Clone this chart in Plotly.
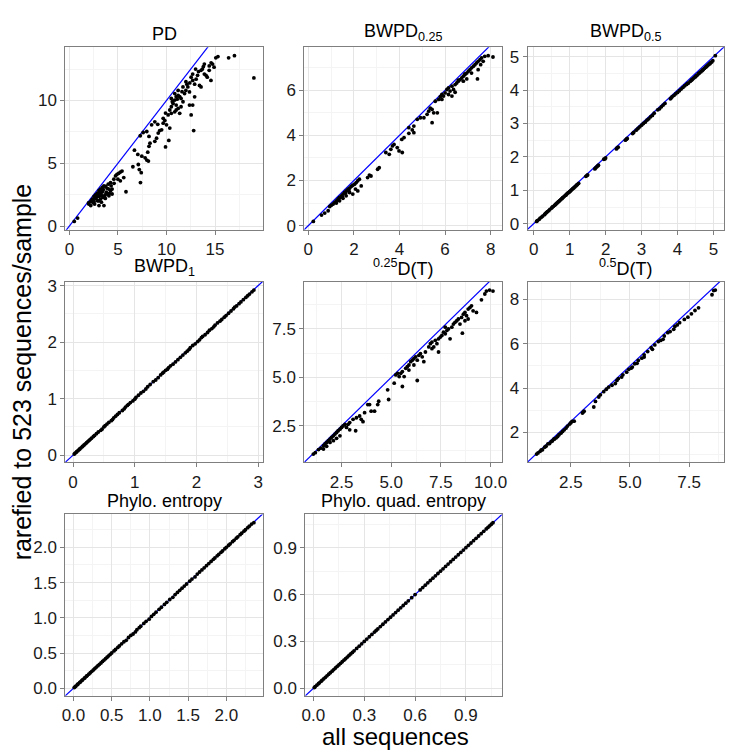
import plotly.graph_objects as go

# ---------------- data ----------------
panel_titles = ["PD", "BWPD<sub>0.25</sub>", "BWPD<sub>0.5</sub>", "BWPD<sub>1</sub>",
                "<sup>0.25</sup>D(T)", "<sup>0.5</sup>D(T)", "Phylo. entropy", "Phylo. quad. entropy"]

pd_x = [0.5,0.85,1.97,2.2,2.37,2.54,2.7,2.88,3.05,3.2,
        3.39,3.56,3.73,3.9,4.07,4.24,4.4,2.2,3.05,3.56,
        2.7,3.05,3.32,3.46,3.66,2.88,2.54,3.2,3.9,4.07,
        4.4,4.0,4.24,4.58,4.75,4.9,5.08,5.25,5.42,5.0,
        5.25,5.6,5.83,6.54,7.1,7.2,7.4,7.32,6.7,7.05,
        7.46,7.3,7.6,7.8,7.97,8.14,8.07,8.2,8.3,7.97,
        8.2,8.47,8.8,8.98,8.8,9.15,9.3,9.83,9.66,10.0,
        10.17,10.34,10.24,9.9,10.34,10.5,10.68,10.85,11.0,11.2,
        11.36,11.5,11.0,11.2,10.85,11.36,11.5,11.7,11.86,12.0,
        12.2,12.37,12.37,12.54,12.7,12.9,12.8,12.54,12.7,12.9,
        13.05,13.2,13.4,13.56,13.56,13.7,13.9,14.07,14.2,14.4,
        14.58,14.75,14.9,15.08,15.3,16.4,17.0,19.0,11.7,12.0,
        12.7,13.0,13.9,14.4,11.2,10.85,10.5,10.5,11.0,9.66,
        9.5,2.0,2.3,2.45,2.6,2.8,2.95,3.1,3.25,3.4,
        3.5,3.6,3.8,3.3,3.0,2.6,3.7,4.1,4.3,4.6,
        9.1,9.9,10.6,11.1,11.6,12.1,12.4,13.3,13.8,14.6]
pd_y = [0.37,0.63,1.84,1.94,2.15,2.36,2.47,2.62,2.81,2.94,
        3.07,3.2,3.15,3.0,2.94,2.81,2.55,1.63,1.63,1.63,
        2.2,2.36,2.41,2.28,2.47,2.02,1.94,2.15,2.55,2.41,
        2.94,3.33,3.46,3.73,3.99,4.12,4.2,4.3,4.38,3.73,
        3.6,3.86,2.73,4.72,4.9,4.5,4.25,3.46,6.04,5.7,
        5.56,7.19,7.45,5.43,5.25,5.17,5.88,6.35,6.6,7.53,
        7.14,8.06,8.3,7.0,6.75,7.4,7.6,8.4,8.58,8.06,
        8.85,7.8,6.82,6.3,9.24,9.5,9.76,10.03,10.3,10.4,
        10.3,10.16,9.63,9.37,9.1,8.98,9.5,9.9,10.55,10.8,
        11.08,10.68,9.63,8.85,9.63,10.29,7.6,11.86,11.6,11.3,
        11.7,12.0,11.2,11.08,12.4,12.5,12.1,12.0,11.86,12.4,
        11.6,12.9,12.65,13.4,13.5,13.4,13.57,11.8,11.08,11.5,
        12.1,12.5,12.9,12.75,10.8,10.55,10.16,8.98,9.24,8.19,
        7.66,1.75,2.05,1.85,2.25,2.3,2.5,2.65,2.6,2.75,
        2.9,2.35,2.7,1.9,2.0,1.75,2.2,2.6,3.2,3.4,
        8.1,9.0,9.9,10.1,10.7,11.3,11.4,12.3,12.7,13.0]

bw025_x = [0.22,0.58,0.72,0.87,0.94,1.01,1.09,1.16,1.23,1.3,
           1.37,1.45,1.52,1.59,1.66,1.74,1.81,1.88,1.95,2.03,
           2.1,2.17,2.24,2.07,2.17,1.95,1.81,1.66,1.52,1.37,
           1.23,1.35,1.49,1.63,1.78,2.32,2.6,2.68,2.75,3.11,
           3.04,3.4,3.55,3.62,3.69,3.76,3.9,3.98,4.12,4.1,
           4.2,4.41,4.56,4.63,4.78,4.92,5.07,5.21,5.28,5.43,
           5.5,5.66,5.43,4.63,4.41,5.72,5.79,5.86,5.93,6.0,
           6.08,6.15,6.22,6.3,6.37,6.44,6.51,6.58,6.66,6.73,
           6.8,6.87,6.95,7.02,7.09,7.16,7.24,7.31,7.38,7.45,
           7.53,7.6,7.74,7.89,8.1,7.42,6.95,6.8,6.58,6.87,
           7.16,7.45,7.56,7.67,5.86,6.15,6.44,6.3,5.57,5.35]
bw025_y = [0.19,0.47,0.56,0.66,0.85,0.91,0.96,1.03,1.1,1.18,
           1.25,1.32,1.4,1.47,1.54,1.62,1.66,1.74,1.79,1.84,
           1.91,1.99,2.06,1.62,1.54,1.4,1.47,1.32,1.21,1.1,
           1.0,1.21,1.29,1.44,1.54,1.76,2.13,2.24,2.2,2.57,
           2.5,3.24,3.16,3.38,3.53,3.6,3.46,3.31,3.24,3.82,
           3.9,4.09,4.24,4.41,4.71,4.78,4.78,4.93,5.07,5.15,
           5.0,5.0,4.56,4.12,4.34,5.59,5.71,5.81,5.74,5.88,
           6.03,6.1,5.96,6.18,6.03,6.25,6.32,6.4,6.47,6.54,
           6.62,6.69,6.76,6.84,6.91,6.99,7.06,7.13,7.21,7.28,
           7.35,7.43,7.5,7.53,7.47,6.5,6.5,6.4,6.45,6.72,
           6.76,6.91,7.13,7.28,5.59,5.81,5.91,5.74,5.51,5.2]

bw05_x = [0.08,0.15,0.22,0.3,0.35,0.42,0.5,0.55,0.6,0.65,
          0.7,0.75,0.8,0.85,0.9,0.95,1.0,1.05,1.1,1.15,
          1.2,1.25,1.45,1.5,1.7,1.75,1.8,1.95,2.0,2.3,
          2.35,2.55,2.6,2.75,2.85,2.95,3.05,3.15,3.25,3.35,
          3.45,3.55,3.65,3.8,3.85,3.95,4.05,4.15,4.25,4.3,
          4.35,4.4,4.45,4.5,4.55,4.6,4.65,4.7,4.75,4.8,
          4.85,4.9,4.95,5.05,
          0.1,0.18,0.25,0.32,0.38,0.45,0.52,0.58,0.62,0.68,
          0.72,0.78,0.82,0.88,0.92,0.98,1.02,1.08,1.12,1.18,
          1.22,1.48,1.72,1.78,1.98,2.32,2.58,2.78,2.9,3.0,
          3.1,3.2,3.3,3.5,3.6,3.82,3.9,4.0,4.1,4.2,
          4.28,4.38,4.42,4.48,4.52,4.58,4.62,4.68,4.72,4.78,
          4.82,4.88,4.92,4.98]
bw05_y = [0.07,0.13,0.2,0.27,0.33,0.39,0.47,0.52,0.57,0.62,
          0.67,0.72,0.77,0.82,0.86,0.92,0.96,1.01,1.06,1.11,
          1.16,1.21,1.42,1.46,1.64,1.7,1.75,1.93,1.97,2.24,
          2.29,2.5,2.55,2.7,2.8,2.9,3.0,3.1,3.2,3.31,
          3.41,3.5,3.6,3.74,3.8,3.89,3.98,4.08,4.17,4.21,
          4.26,4.31,4.36,4.4,4.45,4.5,4.55,4.6,4.65,4.7,
          4.75,4.79,4.84,5.03,
          0.09,0.17,0.23,0.3,0.36,0.43,0.5,0.55,0.59,0.65,
          0.69,0.75,0.79,0.85,0.89,0.94,0.98,1.04,1.08,1.14,
          1.18,1.44,1.67,1.73,1.94,2.27,2.53,2.73,2.85,2.95,
          3.04,3.14,3.24,3.44,3.55,3.76,3.84,3.93,4.03,4.13,
          4.2,4.29,4.33,4.39,4.43,4.49,4.53,4.58,4.62,4.68,
          4.72,4.78,4.82,4.88]

bw1_x = [0.02,0.05,0.08,0.1,0.13,0.16,0.2,0.24,0.28,0.33,
         0.38,0.45,0.5,0.55,0.62,0.66,0.72,0.8,0.85,0.9,
         0.97,1.02,1.1,1.18,1.25,1.3,1.38,1.45,1.5,1.55,
         1.62,1.7,1.78,1.85,1.9,1.98,2.05,2.1,2.18,2.25,
         2.3,2.38,2.45,2.52,2.6,2.65,2.72,2.8,2.86,2.93,
         0.03,0.06,0.11,0.15,0.18,0.22,0.26,0.3,0.35,0.41,
         0.47,0.52,0.58,0.64,0.69,0.75,0.83,0.88,0.93,1.0,
         1.06,1.14,1.21,1.34,1.42,1.47,1.53,1.58,1.66,1.74,
         1.82,1.88,1.94,2.02,2.08,2.14,2.21,2.28,2.34,2.41,
         2.48,2.56,2.62,2.69,2.76,2.83,2.9]
bw1_y = [0.02,0.05,0.08,0.1,0.13,0.16,0.2,0.24,0.28,0.33,
         0.38,0.44,0.5,0.55,0.61,0.66,0.72,0.79,0.85,0.9,
         0.96,1.02,1.1,1.17,1.25,1.3,1.37,1.45,1.5,1.55,
         1.61,1.69,1.77,1.84,1.9,1.97,2.04,2.1,2.17,2.24,
         2.3,2.37,2.44,2.51,2.59,2.64,2.71,2.79,2.85,2.92,
         0.03,0.06,0.11,0.15,0.18,0.22,0.26,0.3,0.35,0.41,
         0.46,0.52,0.58,0.63,0.69,0.75,0.82,0.88,0.93,0.99,
         1.06,1.13,1.21,1.33,1.42,1.47,1.52,1.58,1.65,1.73,
         1.81,1.87,1.94,2.01,2.08,2.13,2.21,2.27,2.34,2.4,
         2.47,2.55,2.62,2.68,2.75,2.82,2.89]

d025_x = [1.08,1.18,1.34,1.46,1.59,1.67,1.75,1.84,1.92,2.0,
          2.09,2.17,2.25,2.33,2.42,2.5,2.58,2.67,1.92,2.09,
          2.25,2.42,1.59,1.75,2.75,2.83,2.91,3.21,2.91,3.08,
          3.25,3.41,3.49,3.58,3.66,3.82,3.91,3.99,4.16,4.32,
          4.37,4.82,4.87,5.15,5.23,5.32,5.4,5.48,5.56,5.65,
          5.73,5.81,5.89,5.98,6.06,6.14,6.23,6.31,6.31,6.39,
          6.47,6.56,6.64,6.14,6.89,6.97,7.05,7.14,7.22,7.3,
          7.38,7.47,7.55,7.63,7.72,7.8,7.88,7.96,8.05,8.13,
          8.21,8.3,8.38,8.46,8.54,8.58,8.63,8.71,8.79,8.87,
          8.96,9.04,9.12,9.29,9.54,9.71,9.79,9.95,10.12,8.71,
          8.87,7.72,7.38,7.05,6.72,5.89,5.56]
d025_y = [1.05,1.12,1.28,1.35,1.48,1.57,1.65,1.74,1.82,1.91,
          1.99,2.08,2.16,2.25,2.33,2.42,2.5,2.58,1.65,1.74,
          1.86,1.99,1.31,1.45,2.42,2.58,2.3,2.25,2.67,2.84,
          2.92,3.01,2.84,2.72,3.18,3.6,3.6,3.26,3.26,3.6,
          3.77,4.36,3.86,4.7,5.13,5.21,5.04,5.21,4.53,5.04,
          5.47,5.55,5.64,5.81,5.89,5.97,6.06,5.89,4.84,6.14,
          6.23,6.06,5.81,5.64,6.57,6.74,6.82,6.57,6.91,6.74,
          6.31,7.08,7.16,7.33,7.25,7.42,7.5,6.99,7.59,7.75,
          7.84,7.92,8.01,7.75,8.09,7.28,8.26,8.35,8.18,8.52,
          8.6,8.69,8.43,8.35,9.0,9.3,9.45,9.5,9.45,7.92,
          8.01,7.59,6.99,6.48,6.31,5.38,5.3]

d05_x = [1.05,1.11,1.25,1.39,1.53,1.67,1.81,1.94,2.08,2.22,
         2.36,2.5,2.64,2.99,3.06,3.47,3.54,3.68,3.89,4.24,
         4.38,4.51,4.65,4.86,8.47,8.54,8.61,1.2,1.3,1.45,
         1.6,1.72,1.78,1.88,2.0,2.15,2.3,2.45,2.55,3.03,
         3.75,4.1,4.95,5.1,5.2,5.35,5.5,5.6,5.75,5.9,
         6.05,6.2,6.3,6.45,6.6,6.7,6.85,7.0,7.1,7.3,
         7.45,7.6,7.75,7.9,5.05,5.3,5.6,5.95,6.4,6.9,
         4.0,4.45,4.7]
d05_y = [1.03,1.08,1.22,1.34,1.49,1.59,1.71,1.82,1.97,2.12,
         2.29,2.44,2.51,2.88,2.96,3.15,3.4,3.6,3.84,4.13,
         4.21,4.43,4.5,4.72,8.21,8.4,8.42,1.15,1.22,1.38,
         1.5,1.62,1.7,1.76,1.9,2.05,2.2,2.38,2.5,2.93,
         3.7,4.05,4.85,4.95,5.1,5.25,5.35,5.5,5.65,5.82,
         5.95,6.1,6.15,6.35,6.5,6.55,6.65,6.85,6.95,7.1,
         7.2,7.35,7.5,7.62,4.9,5.12,5.4,5.75,6.2,6.78,
         3.95,4.35,4.6]

pe_x = [0.01,0.03,0.06,0.09,0.12,0.15,0.18,0.22,0.26,0.3,
        0.34,0.38,0.42,0.46,0.5,0.55,0.6,0.66,0.72,0.78,
        0.83,0.88,0.95,1.02,1.08,1.15,1.22,1.3,1.36,1.42,
        1.48,1.55,1.62,1.68,1.74,1.8,1.85,1.9,1.95,2.0,
        2.05,2.1,2.15,2.2,2.25,2.3,2.36,
        0.02,0.05,0.08,0.11,0.14,0.17,0.2,0.24,0.28,0.32,
        0.36,0.4,0.44,0.48,0.53,0.58,0.63,0.69,0.75,0.81,
        0.86,0.92,0.99,1.05,1.12,1.19,1.26,1.33,1.39,1.45,
        1.52,1.59,1.65,1.71,1.77,1.83,1.88,1.93,1.98,2.03,
        2.08,2.13,2.18,2.23,2.28,2.33]
pe_y = [0.01,0.03,0.06,0.09,0.12,0.15,0.18,0.22,0.26,0.3,
        0.34,0.38,0.42,0.46,0.5,0.55,0.6,0.66,0.72,0.77,
        0.83,0.88,0.95,1.02,1.08,1.15,1.22,1.29,1.36,1.42,
        1.48,1.55,1.62,1.68,1.74,1.8,1.85,1.9,1.95,2.0,
        2.05,2.1,2.15,2.2,2.25,2.3,2.35,
        0.02,0.05,0.08,0.11,0.14,0.17,0.2,0.24,0.28,0.32,
        0.36,0.4,0.44,0.48,0.53,0.58,0.63,0.68,0.75,0.8,
        0.86,0.92,0.98,1.05,1.12,1.19,1.26,1.33,1.39,1.45,
        1.52,1.58,1.65,1.71,1.77,1.83,1.88,1.93,1.98,2.03,
        2.08,2.13,2.18,2.23,2.28,2.33]

pq_x = [0.005,0.02,0.035,0.05,0.07,0.09,0.11,0.13,0.15,0.17,
        0.19,0.22,0.24,0.27,0.3,0.33,0.36,0.38,0.41,0.44,
        0.47,0.5,0.53,0.56,0.58,0.63,0.66,0.69,0.72,0.75,
        0.78,0.81,0.84,0.87,0.9,0.93,0.96,0.99,1.02,1.04,1.06,
        0.01,0.03,0.045,0.06,0.08,0.1,0.12,0.14,0.16,0.18,
        0.2,0.21,0.23,0.255,0.285,0.315,0.345,0.37,0.395,0.425,
        0.455,0.485,0.515,0.545,0.6,0.645,0.675,0.705,0.735,0.765,
        0.795,0.825,0.855,0.885,0.915,0.945,0.975,1.005,1.03,1.05]
pq_y = [0.005,0.02,0.035,0.05,0.07,0.09,0.11,0.13,0.15,0.17,
        0.19,0.22,0.24,0.27,0.3,0.33,0.36,0.38,0.41,0.44,
        0.47,0.5,0.53,0.56,0.58,0.63,0.66,0.69,0.72,0.75,
        0.78,0.81,0.84,0.87,0.9,0.93,0.96,0.99,1.02,1.04,1.06,
        0.01,0.03,0.045,0.06,0.08,0.1,0.12,0.14,0.16,0.18,
        0.2,0.21,0.23,0.255,0.285,0.315,0.345,0.37,0.395,0.425,
        0.455,0.485,0.515,0.545,0.6,0.645,0.675,0.705,0.735,0.765,
        0.795,0.825,0.855,0.885,0.915,0.945,0.975,1.005,1.03,1.05]

x_title = "all sequences"
y_title = "rarefied to 523 sequences/sample"

# ---------------- layout / style ----------------
W, H = 750, 754
panels = [(pd_x, pd_y), (bw025_x, bw025_y), (bw05_x, bw05_y), (bw1_x, bw1_y),
          (d025_x, d025_y), (d05_x, d05_y), (pe_x, pe_y), (pq_x, pq_y)]
boxes = [(62, 262, 43, 228), (304, 504, 43, 228), (530, 729, 43, 228),
         (62, 262, 281, 464), (304, 504, 281, 464), (530, 729, 281, 464),
         (62, 262, 517, 701), (305, 504, 517, 701)]
x_dt = [5, 2, 1, 1, 2.5, 2.5, 0.5, 0.3]
y_dt = [5, 2, 1, 1, 2.5, 2, 0.5, 0.3]
x_fmt = ["", "", "", "", ".1f", ".1f", ".1f", ".1f"]
y_fmt = ["", "", "", "", ".1f", "", ".1f", ".1f"]

FONT = "Liberation Sans, Arial, Helvetica, sans-serif"
GREY50 = "#7f7f7f"
GRID = "#e5e5e5"
MINOR = "#f4f4f4"

def expand(v):
    lo, hi = min(v), max(v)
    d = (hi - lo) * 0.05
    return [lo - d, hi + d]

fig = go.Figure()
layout = dict(width=W, height=H, margin=dict(l=0, r=0, t=0, b=0),
              paper_bgcolor="white", plot_bgcolor="white", showlegend=False,
              font=dict(family=FONT, color="black"))
annotations = []

for i, ((xs, ys), (l, r, t, b)) in enumerate(zip(panels, boxes)):
    n = "" if i == 0 else str(i + 1)
    xr, yr = expand(xs), expand(ys)
    lo = min(xr[0], yr[0]) - 1
    hi = max(xr[1], yr[1]) + 1
    fig.add_trace(go.Scatter(x=[lo, hi], y=[lo, hi], mode="lines",
                             line=dict(color="#0000ff", width=1.2),
                             xaxis="x" + n, yaxis="y" + n, hoverinfo="skip"))
    fig.add_trace(go.Scatter(x=xs, y=ys, mode="markers",
                             marker=dict(color="black", size=3.8, line=dict(width=0)),
                             xaxis="x" + n, yaxis="y" + n))
    common = dict(showline=True, linecolor=GREY50, linewidth=1, mirror=True,
                  ticks="outside", ticklen=4, tickcolor=GREY50, tickwidth=1,
                  showgrid=True, gridcolor=GRID, gridwidth=1, zeroline=False,
                  tickfont=dict(size=17, color="#1a1a1a", family=FONT))
    layout["xaxis" + n] = dict(common, domain=[l / W, r / W], range=xr,
                               anchor="y" + n, tick0=0, dtick=x_dt[i],
                               tickformat=x_fmt[i],
                               minor=dict(dtick=x_dt[i] / 2, tick0=0, showgrid=True,
                                          gridcolor=MINOR, ticks=""))
    layout["yaxis" + n] = dict(common, domain=[1 - b / H, 1 - t / H], range=yr,
                               anchor="x" + n, tick0=0, dtick=y_dt[i],
                               tickformat=y_fmt[i],
                               minor=dict(dtick=y_dt[i] / 2, tick0=0, showgrid=True,
                                          gridcolor=MINOR, ticks=""))
    annotations.append(dict(text=panel_titles[i], x=(l + r) / 2 / W, y=1 - (t - 2) / H,
                            xref="paper", yref="paper", xanchor="center", yanchor="bottom",
                            borderpad=0, showarrow=False,
                            font=dict(size=18, family=FONT, color="black")))

annotations.append(dict(text=x_title, x=396 / W, y=1 - 742.5 / H, xref="paper", yref="paper",
                        xanchor="center", yanchor="middle", borderpad=0, showarrow=False,
                        font=dict(size=24, family=FONT, color="black")))
annotations.append(dict(text=y_title, x=18 / W, y=1 - 372 / H, xref="paper", yref="paper",
                        xanchor="center", yanchor="middle", textangle=-90, showarrow=False,
                        font=dict(size=25, family=FONT, color="black")))
layout["annotations"] = annotations
fig.update_layout(**layout)
fig.write_html("out.html", config={"displayModeBar": False},
               post_script="document.body.style.margin='0px';document.body.style.overflow='hidden';")
